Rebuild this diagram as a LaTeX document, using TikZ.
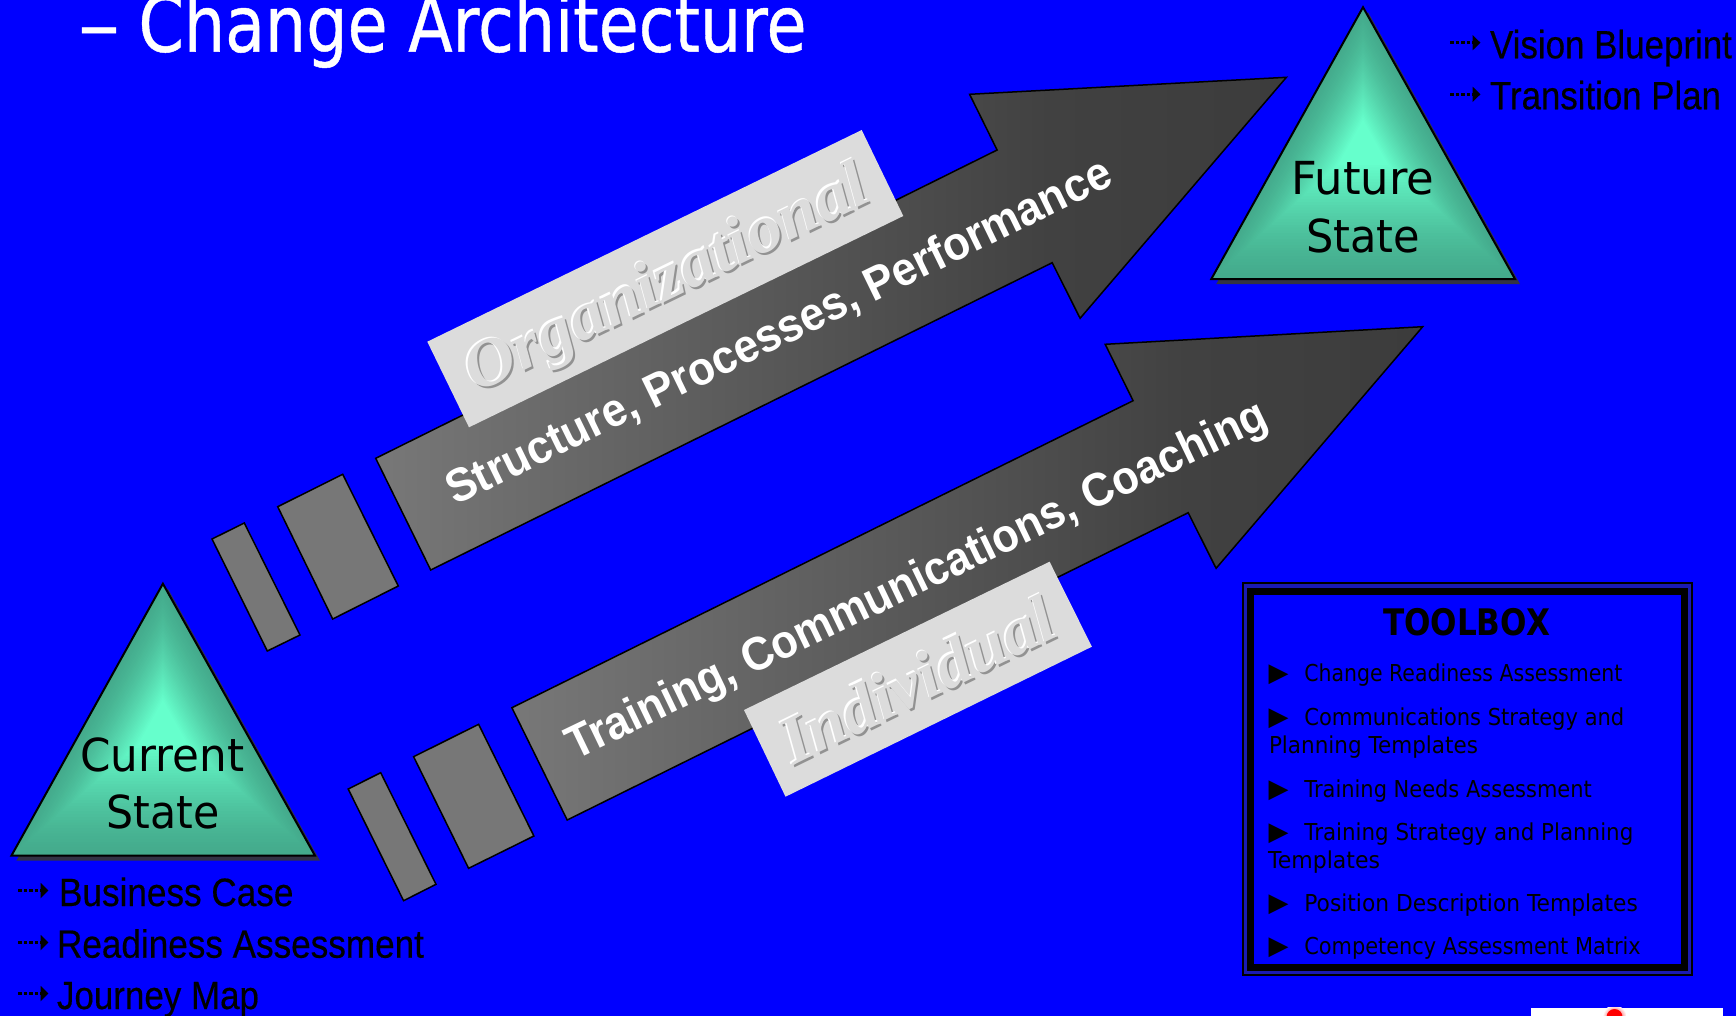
\documentclass[tikz,border=0pt]{standalone}
\usepackage{fontspec}
\usetikzlibrary{calc,arrows.meta}
\newfontfamily\arialf[FakeBold=0.4]{Liberation Sans}
\newfontfamily\arialb{Liberation Sans Bold}
\newfontfamily\tahomaf{DejaVu Sans}
\newfontfamily\tahomah[FakeBold=0.6]{DejaVu Sans}
\newfontfamily\timesf{Liberation Serif}
\definecolor{bgblue}{HTML}{0000FF}
\definecolor{edgec}{HTML}{44AB8C}
\definecolor{centerc}{HTML}{66FFCC}
\definecolor{shadowc}{HTML}{333344}
\definecolor{boxgray}{HTML}{777777}
\definecolor{labelgray}{HTML}{DCDCDC}
\definecolor{darkemb}{HTML}{929292}
\definecolor{framegap}{HTML}{1A1AB4}
\pgfdeclarehorizontalshading{arrowshade}{100bp}{rgb(0bp)=(.47,.47,.47); rgb(25bp)=(.47,.47,.47); rgb(62bp)=(.255,.255,.255); rgb(75bp)=(.235,.235,.235); rgb(100bp)=(.235,.235,.235)}
\tikzset{
  x=1pt,y=-1pt,
  txt/.style={anchor=base west,inner sep=0pt,outer sep=0pt},
  ctxt/.style={anchor=base,inner sep=0pt,outer sep=0pt},
  gline/.style={draw=black,line width=1.5pt,line join=miter},
  bigarrow/.style={gline,shade,shading=arrowshade},
  segment/.style={gline,fill=boxgray},
  barrow/.style={draw=black,line width=3.2pt,dash pattern=on 3.5pt off 2pt,-{Triangle[length=8pt,width=15pt]}},
}
\newcommand{\fitw}[2]{\resizebox{#1pt}{\height}{#2}}
\newcommand{\listfont}{\arialf\fontsize{39.5}{44}\selectfont}
\newcommand{\triafont}{\tahomaf\fontsize{45.5}{50}\selectfont}
\newcommand{\toolfont}{\tahomaf\fontsize{23.3}{28}\selectfont}
\newcommand{\strongfont}{\arialb\fontsize{47}{53}\selectfont}
\newcommand{\embfont}{\timesf\bfseries\itshape\fontsize{67}{72}\selectfont}
\newcommand{\gemtri}[5]{%
  \coordinate (#1a) at #2; \coordinate (#1l) at #3; \coordinate (#1r) at #4; \coordinate (#1c) at #5;
  \fill[shadowc] ($(#1a)+(5,5)$) -- ($(#1r)+(5,5)$) -- ($(#1l)+(5,5)$) -- cycle;
  \foreach \k in {0,...,48}{%
    \pgfmathsetmacro\ff{1-\k/48}%
    \pgfmathsetmacro\mm{min(100,100*(\k/40)^1.4)}%
    \fill[centerc!\mm!edgec] ($(#1c)!\ff!(#1a)$) -- ($(#1c)!\ff!(#1r)$) -- ($(#1c)!\ff!(#1l)$) -- cycle;
  }
  \draw[gline,line width=2pt] (#1a) -- (#1r) -- (#1l) -- cycle;
}
\newcommand{\emboss}[6]{% name, cx, cy, angle, width, text
  \node[inner sep=0pt,rotate=#4,text=darkemb] (#1s) at (#2+2,#3+2) {\embfont\fitw{#5}{#6}};
  \node[inner sep=0pt,rotate=#4,text=white] (#1h) at (#2-1.5,#3-1.5) {\embfont\fitw{#5}{#6}};
  \node[inner sep=0pt,rotate=#4,text=labelgray] (#1) at (#2,#3) {\embfont\fitw{#5}{#6}};
}
\newcommand{\bulletarrow}[3]{%
  \coordinate (#1a) at (#2,#3); \coordinate (#1b) at (#2+30.5,#3);
  \draw[barrow] (#1a) -- (#1b);
}
\newcommand{\toolitem}[4]{% name, baseline, width, text
  \node[txt] (#1t) at (1268.5,#2) {\tahomaf\fontsize{26}{28}\selectfont ▶};
  \node[txt] (#1) at (1304.3,#2) {\toolfont\fitw{#3}{#4}};
}
\begin{document}
\begin{tikzpicture}
\useasboundingbox (0,0) rectangle (1736,1016);
\fill[bgblue] (0,0) rectangle (1736,1016);

% title
\node[txt,text=white] (titledash) at (78,51.7) {\tahomah\fontsize{78}{84}\selectfont\fitw{42}{–}};
\node[txt,text=white] (title) at (138.5,51.7) {\tahomah\fontsize{78}{84}\selectfont\fitw{668}{Change Architecture}};

% upper arrow pieces
\path[segment] (212,539) -- (244.3,523) -- (300,635) -- (267.3,651) -- cycle;
\path[segment] (277.7,506.7) -- (342.7,474.3) -- (398.3,586) -- (332.7,619) -- cycle;
\path[bigarrow]
  (375.7,458.3) -- (997.1,150) -- (969.6,94.3) -- (1286.4,77.3) -- (1080.1,318.3) -- (1052.2,262.7) -- (430.7,570) -- cycle;
\fill[labelgray] (427.3,341.7) -- (861.7,130) -- (903.3,216) -- (469,427.3) -- cycle;
\emboss{org}{668}{282.5}{26}{442}{Organizational}
\node[inner sep=0pt,rotate=26,text=white] (orgtext) at (779.5,333) {\strongfont\fitw{734}{Structure, Processes, Performance}};

% lower arrow pieces
\path[segment] (348.2,789) -- (380.7,772.7) -- (436,884.3) -- (403.6,900.7) -- cycle;
\path[segment] (413.6,756.7) -- (478.6,724.3) -- (533.9,836) -- (468.6,868.3) -- cycle;
\path[bigarrow]
  (511.9,707.7) -- (1133.1,400.7) -- (1105.2,344.3) -- (1422.7,326.7) -- (1216.1,568.3) -- (1188.2,512.7) -- (567.2,820) -- cycle;
\node[inner sep=0pt,rotate=25.7,text=white] (indtext) at (917.5,582) {\strongfont\fitw{771}{Training, Communications, Coaching}};
\fill[labelgray] (744,710) -- (1049.6,561.7) -- (1091.9,646.7) -- (785.5,796.7) -- cycle;
\emboss{ind}{917}{680}{26}{298}{Individual}

% triangles
\gemtri{cur}{(162.9,583.7)}{(11.4,855.7)}{(315,855.7)}{(162.9,723)}
\gemtri{fut}{(1363,7.2)}{(1211.2,279.2)}{(1515.1,279.2)}{(1363,142)}
\node[ctxt] (curA) at (162.5,771) {\triafont\fitw{164}{Current}};
\node[ctxt] (curB) at (163,828) {\triafont\fitw{113}{State}};
\node[ctxt] (futA) at (1363,194.8) {\triafont\fitw{143}{Future}};
\node[ctxt] (futB) at (1363,252.2) {\triafont\fitw{114}{State}};

% lists
\bulletarrow{b1}{18}{890.5}
\bulletarrow{b2}{18}{942.5}
\bulletarrow{b3}{18}{993.5}
\node[txt] (l1) at (59,906) {\listfont\fitw{234.5}{Business Case}};
\node[txt] (l2) at (57,957.7) {\listfont\fitw{367}{Readiness Assessment}};
\node[txt] (l3) at (57,1009) {\listfont\fitw{202}{Journey Map}};
\bulletarrow{r1}{1450}{42.7}
\bulletarrow{r2}{1450}{94.3}
\node[txt] (v1) at (1490,58.3) {\listfont\fitw{242}{Vision Blueprint}};
\node[txt] (v2) at (1490,109.3) {\listfont\fitw{231}{Transition Plan}};

% toolbox
\draw[black,fill=framegap,line width=2pt] (1243,583) rectangle (1691.5,975);
\draw[black,fill=bgblue,line width=7pt] (1250.5,591) rectangle (1684,967);
\node[ctxt] (tbtitle) at (1466.5,635) {\tahomaf\bfseries\fontsize{36.6}{40}\selectfont\fitw{167}{TOOLBOX}};
\toolitem{i1}{681}{318}{Change Readiness Assessment}
\toolitem{i2}{725}{320}{Communications Strategy and}
\node[txt] (i2b) at (1269,753.7) {\toolfont\fitw{209}{Planning Templates}};
\toolitem{i3}{797}{287.5}{Training Needs Assessment}
\toolitem{i4}{840}{329}{Training Strategy and Planning}
\node[txt] (i4b) at (1268,868) {\toolfont\fitw{112}{Templates}};
\toolitem{i5}{911}{333.5}{Position Description Templates}
\toolitem{i6}{954}{336.5}{Competency Assessment Matrix}

% logo fragment
\fill[white] (1531,1007.7) rectangle (1722.7,1016);
\begin{scope}
\clip (1531,1007.7) rectangle (1722.7,1016);
\shade[inner color=red,outer color=white] (1614.5,1017) circle (12);
\fill[red] (1614.5,1017) circle (8);
\end{scope}
\end{tikzpicture}
\end{document}
